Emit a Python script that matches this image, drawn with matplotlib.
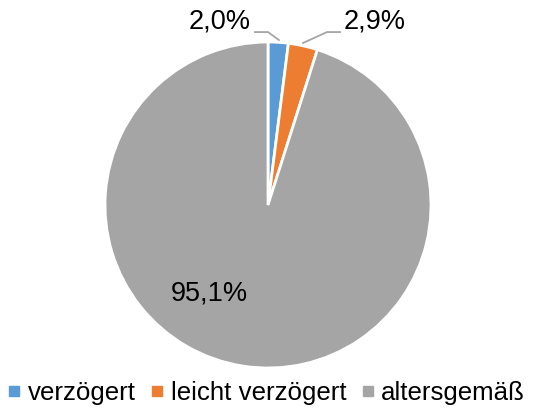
import matplotlib
matplotlib.use("Agg")
import matplotlib.pyplot as plt
from matplotlib.lines import Line2D

categories = ["verzögert", "leicht verzögert", "altersgemäß"]
values = [2.0, 2.9, 95.1]
labels = ["2,0%", "2,9%", "95,1%"]
colors = ["#5B9BD5", "#ED7D31", "#A5A5A5"]

plt.rcParams['font.family'] = ['Liberation Sans', 'DejaVu Sans']

fig = plt.figure(figsize=(5.39, 4.12), dpi=100)
cx, cy, r = 268, 205, 163
W, H = 539, 412
ax = fig.add_axes([(cx - r) / W, (H - cy - r) / H, 2 * r / W, 2 * r / H])
wedges, _ = ax.pie(values, colors=colors, startangle=90, counterclock=False,
                   radius=1, wedgeprops=dict(edgecolor="white", linewidth=2))
ax.set_xlim(-1, 1)
ax.set_ylim(-1, 1)
ax.set_aspect('equal')
ax.axis('off')

fs = 19.5
ax.text(-0.295, 1.123, labels[0], ha='center', va='center', fontsize=fs, clip_on=False)
ax.text(0.655, 1.123, labels[1], ha='center', va='center', fontsize=fs, clip_on=False)
ax.text(-0.36, -0.54, labels[2], ha='center', va='center', fontsize=fs)

lc = "#A5A5A5"
ax.plot([-0.08, 0.0, 0.067], [1.061, 1.061, 1.012], color=lc, lw=1.3, clip_on=False)
ax.plot([0.215, 0.362, 0.442], [0.994, 1.061, 1.061], color=lc, lw=1.3, clip_on=False)

handles = [Line2D([0], [0], marker='s', color='none', markerfacecolor=c,
                  markeredgecolor=c, markersize=6.5) for c in colors]
fig.legend(handles, categories, loc='center', ncol=3, frameon=False,
           fontsize=18.6, bbox_to_anchor=(0.495, 1 - 393 / H), handlelength=0.45,
           handletextpad=0.3, columnspacing=0.6, borderpad=0)

fig.savefig("out.png", dpi=100)
